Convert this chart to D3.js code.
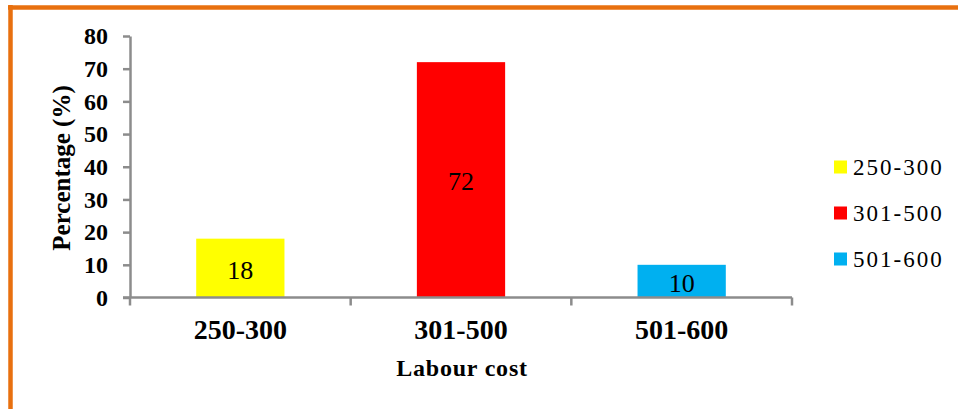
<!DOCTYPE html>
<html>
<head>
<meta charset="utf-8">
<script src="https://cdn.jsdelivr.net/npm/d3@7"></script>
<style>
  html, body { margin: 0; padding: 0; background: #fff; }
  svg { display: block; }
  text { font-family: "Liberation Serif", "Times New Roman", serif; fill: #000; }
</style>
</head>
<body>
<script>
// Labour cost distribution (percentage of respondents)
const categories = ["250-300", "301-500", "501-600"];
const values = [18, 72, 10];
const colors = ["#FFFF00", "#FF0000", "#00B0F0"];
const yTicks = [0, 10, 20, 30, 40, 50, 60, 70, 80];

const W = 958, H = 409;
const svg = d3.select("body").append("svg").attr("width", W).attr("height", H);

// orange frame (top and left edges visible)
svg.append("line").attr("x1", 8).attr("x2", W).attr("y1", 7.5).attr("y2", 7.5)
  .attr("stroke", "#E8700F").attr("stroke-width", 4.5);
svg.append("line").attr("x1", 10.5).attr("x2", 10.5).attr("y1", 5).attr("y2", H)
  .attr("stroke", "#E8700F").attr("stroke-width", 4.5);

const plot = { left: 130, right: 792, top: 36, bottom: 297.5 };

const y = d3.scaleLinear().domain([0, 80]).range([plot.bottom, plot.top]);
const x = d3.scaleBand().domain(categories).range([plot.left, plot.right])
  .paddingInner(0.6).paddingOuter(0.3);

const axisColor = "#8C8C8C";

// bars
svg.append("g").selectAll("rect").data(values).join("rect")
  .attr("x", (d, i) => x(categories[i]))
  .attr("width", x.bandwidth())
  .attr("y", d => y(d))
  .attr("height", d => y(0) - y(d))
  .attr("fill", (d, i) => colors[i]);

// value labels inside bars
svg.append("g").selectAll("text").data(values).join("text")
  .attr("x", (d, i) => x(categories[i]) + x.bandwidth() / 2)
  .attr("y", d => (y(d) + y(0)) / 2 + 2)
  .attr("text-anchor", "middle")
  .attr("dominant-baseline", "central")
  .style("font-size", "26px")
  .text(d => d);

// y axis
const yAxis = svg.append("g").attr("transform", `translate(${plot.left},0)`)
  .call(d3.axisLeft(y).tickValues(yTicks).tickSize(7).tickPadding(15).tickSizeOuter(0));
yAxis.select(".domain").attr("stroke", axisColor).attr("stroke-width", 2.5);
yAxis.selectAll(".tick line").attr("stroke", axisColor).attr("stroke-width", 2.5);
yAxis.selectAll(".tick text").style("font-size", "24px").style("font-weight", "bold")
  .style("font-family", "'Liberation Serif', serif").attr("fill", "#000");

// x axis: labels under category centres, ticks on category boundaries
const xAxis = svg.append("g").attr("transform", `translate(0,${plot.bottom})`)
  .call(d3.axisBottom(x).tickSize(0).tickPadding(22).tickSizeOuter(0));
xAxis.select(".domain").remove();
xAxis.selectAll(".tick text").style("font-size", "28px").style("font-weight", "bold")
  .style("font-family", "'Liberation Serif', serif").attr("fill", "#000");

const step = x.step();
const bounds = d3.range(categories.length + 1).map(i => plot.left + i * step);
svg.append("line").attr("x1", plot.left - 7).attr("x2", plot.right)
  .attr("y1", plot.bottom).attr("y2", plot.bottom)
  .attr("stroke", axisColor).attr("stroke-width", 2.5);
svg.append("g").selectAll("line").data(bounds).join("line")
  .attr("x1", d => d).attr("x2", d => d)
  .attr("y1", plot.bottom).attr("y2", plot.bottom + 8)
  .attr("stroke", axisColor).attr("stroke-width", 2.5);

// axis titles
svg.append("text")
  .attr("transform", `translate(70,168) rotate(-90)`)
  .attr("text-anchor", "middle")
  .style("font-size", "25px").style("font-weight", "bold")
  .text("Percentage (%)");

svg.append("text")
  .attr("x", 462).attr("y", 376)
  .attr("text-anchor", "middle")
  .style("font-size", "24px").style("font-weight", "bold")
  .style("letter-spacing", "0.8px")
  .text("Labour cost");

// legend
const legendY = [167, 213, 259];
const legend = svg.append("g").selectAll("g").data(categories).join("g")
  .attr("transform", (d, i) => `translate(834,${legendY[i]})`);
legend.append("rect").attr("x", 0).attr("y", -6.5).attr("width", 13).attr("height", 13)
  .attr("fill", (d, i) => colors[i]);
legend.append("text").attr("x", 19).attr("y", 0)
  .attr("dominant-baseline", "central")
  .style("font-size", "23px").style("letter-spacing", "2px")
  .text(d => d);
</script>
</body>
</html>
